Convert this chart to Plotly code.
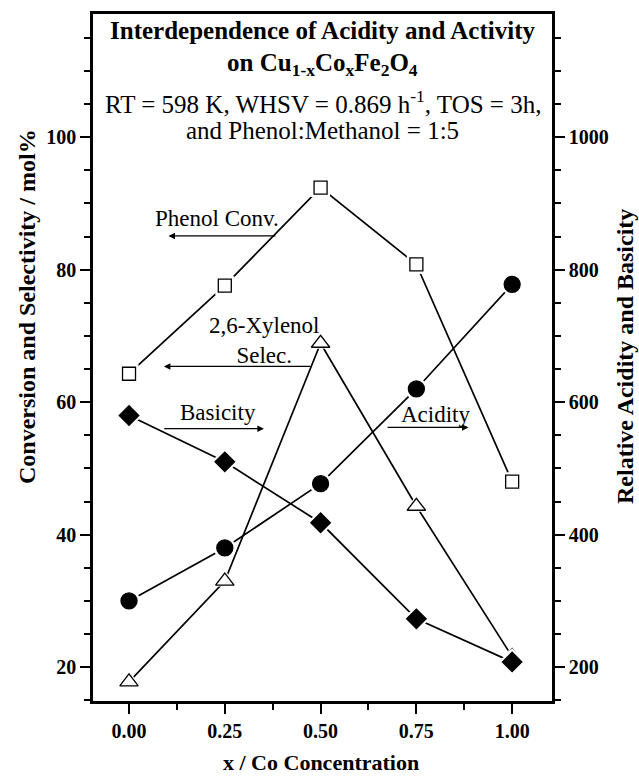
import plotly.graph_objects as go

# ---- data ----
co_x = [0.0, 0.25, 0.50, 0.75, 1.00]
phenol_conv = [64.3, 77.6, 92.4, 80.8, 48.0]          # mol%, left axis
xylenol_sel = [17.8, 33.0, 68.9, 44.3, 21.6]          # mol%, left axis
acidity = [300, 380, 477, 620, 778]                   # right axis
basicity = [580, 510, 418, 273, 208]                  # right axis

x_ticks = [0.0, 0.25, 0.50, 0.75, 1.00]
x_ticktext = ["0.00", "0.25", "0.50", "0.75", "1.00"]
y_ticks = [20, 40, 60, 80, 100]
y2_ticks = [200, 400, 600, 800, 1000]

FONT = "Liberation Serif"
W, H = 639, 776
L, R, T, B = 93, 87, 14, 75

fig = go.Figure()

def add_series(xs, ys, symbol, size, fill, yaxis):
    fig.add_trace(go.Scatter(x=xs, y=ys, mode="lines", yaxis=yaxis,
                             line=dict(color="black", width=1.7),
                             hoverinfo="skip", showlegend=False))
    # white halo to leave a small gap between line and marker
    fig.add_trace(go.Scatter(x=xs, y=ys, mode="markers", yaxis=yaxis,
                             marker=dict(symbol=symbol, size=size + 6, color="white",
                                         line=dict(width=0)),
                             hoverinfo="skip", showlegend=False))
    fig.add_trace(go.Scatter(x=xs, y=ys, mode="markers", yaxis=yaxis,
                             marker=dict(symbol=symbol, size=size, color=fill,
                                         line=dict(color="black", width=1.3)),
                             showlegend=False))

add_series(co_x, phenol_conv, "square", 13, "white", "y")
add_series(co_x, xylenol_sel, "triangle-up", 16, "white", "y")
add_series(co_x, acidity, "circle", 16, "black", "y2")
add_series(co_x, basicity, "diamond", 15, "black", "y2")

y_range = [14.9, 118.6]
x_range = [-0.094, 1.104]

axis_common = dict(showgrid=False, zeroline=False, showline=True, linecolor="black",
                   linewidth=2.5, ticks="outside", ticklen=10, tickwidth=2,
                   tickcolor="black",
                   tickfont=dict(family=FONT, size=20, color="black", weight="bold"))

fig.update_layout(
    width=W, height=H,
    margin=dict(l=L, r=R, t=T, b=B, pad=0),
    paper_bgcolor="white", plot_bgcolor="white",
    xaxis=dict(range=x_range, tickvals=x_ticks, ticktext=x_ticktext, mirror=True,
               minor=dict(dtick=0.125, tick0=0, ticks="outside", ticklen=6,
                          tickwidth=2, tickcolor="black"),
               **axis_common),
    yaxis=dict(range=y_range, tickvals=y_ticks,
               minor=dict(dtick=5, tick0=0, ticks="outside", ticklen=6,
                          tickwidth=2, tickcolor="black"),
               **axis_common),
    yaxis2=dict(range=[v * 10 for v in y_range], tickvals=y2_ticks, overlaying="y",
                side="right",
                minor=dict(dtick=50, tick0=0, ticks="outside", ticklen=6,
                           tickwidth=2, tickcolor="black"),
                **axis_common),
)

ann = []
title_lines = [
    ("<b>Interdependence of Acidity and Activity</b>", 0.976),
    ("<b>on Cu<sub>1-x</sub>Co<sub>x</sub>Fe<sub>2</sub>O<sub>4</sub></b>", 0.926),
    ("RT = 598 K, WHSV = 0.869 h<sup>-1</sup>, TOS = 3h,", 0.872),
    ("and Phenol:Methanol = 1:5", 0.830),
]
for txt, yy in title_lines:
    ann.append(dict(text=txt, xref="paper", yref="paper", x=0.5, y=yy,
                    xanchor="center", yanchor="middle", showarrow=False,
                    font=dict(family=FONT, size=25, color="black")))

# axis titles
ann.append(dict(text="<b>x / Co Concentration</b>", xref="paper", yref="paper",
                x=(321 - L) / (W - L - R), y=-(762 - (H - B)) / (H - T - B),
                xanchor="center", yanchor="middle", showarrow=False,
                font=dict(family=FONT, size=22, color="black")))
ann.append(dict(text="<b>Conversion and Selectivity / mol%</b>", xref="paper", yref="paper",
                x=(27 - L) / (W - L - R), y=((H - B) - 307) / (H - T - B),
                xanchor="center", yanchor="middle", textangle=-90, showarrow=False,
                font=dict(family=FONT, size=24, color="black")))
ann.append(dict(text="<b>Relative Acidity and Basicity</b>", xref="paper", yref="paper",
                x=(625 - L) / (W - L - R), y=((H - B) - 357) / (H - T - B),
                xanchor="center", yanchor="middle", textangle=-90, showarrow=False,
                font=dict(family=FONT, size=24, color="black")))

# in-plot labels
labels = [
    ("Phenol Conv.", 0.229, 87.7),
    ("2,6-Xylenol<br>Selec.", 0.353, 69.3),
    ("Basicity", 0.233, 58.5),
    ("Acidity", 0.799, 58.1),
]
for txt, xx, yy in labels:
    ann.append(dict(text=txt, x=xx, y=yy, xref="x", yref="y", showarrow=False,
                    xanchor="center", yanchor="middle",
                    font=dict(family=FONT, size=23, color="black")))

arrows = [  # (tail x, head x, y)
    (0.386, 0.103, 85.1),
    (0.477, 0.091, 65.4),
    (0.088, 0.352, 56.0),
    (0.671, 0.886, 56.2),
]
for tx, hx, yy in arrows:
    ann.append(dict(text="", x=hx, y=yy, ax=tx, ay=yy, xref="x", yref="y",
                    axref="x", ayref="y", showarrow=True, arrowhead=2,
                    arrowsize=1, arrowwidth=1.3, arrowcolor="black", standoff=0,
                    startstandoff=0))

fig.update_layout(annotations=ann)

fig.write_html("out.html")
